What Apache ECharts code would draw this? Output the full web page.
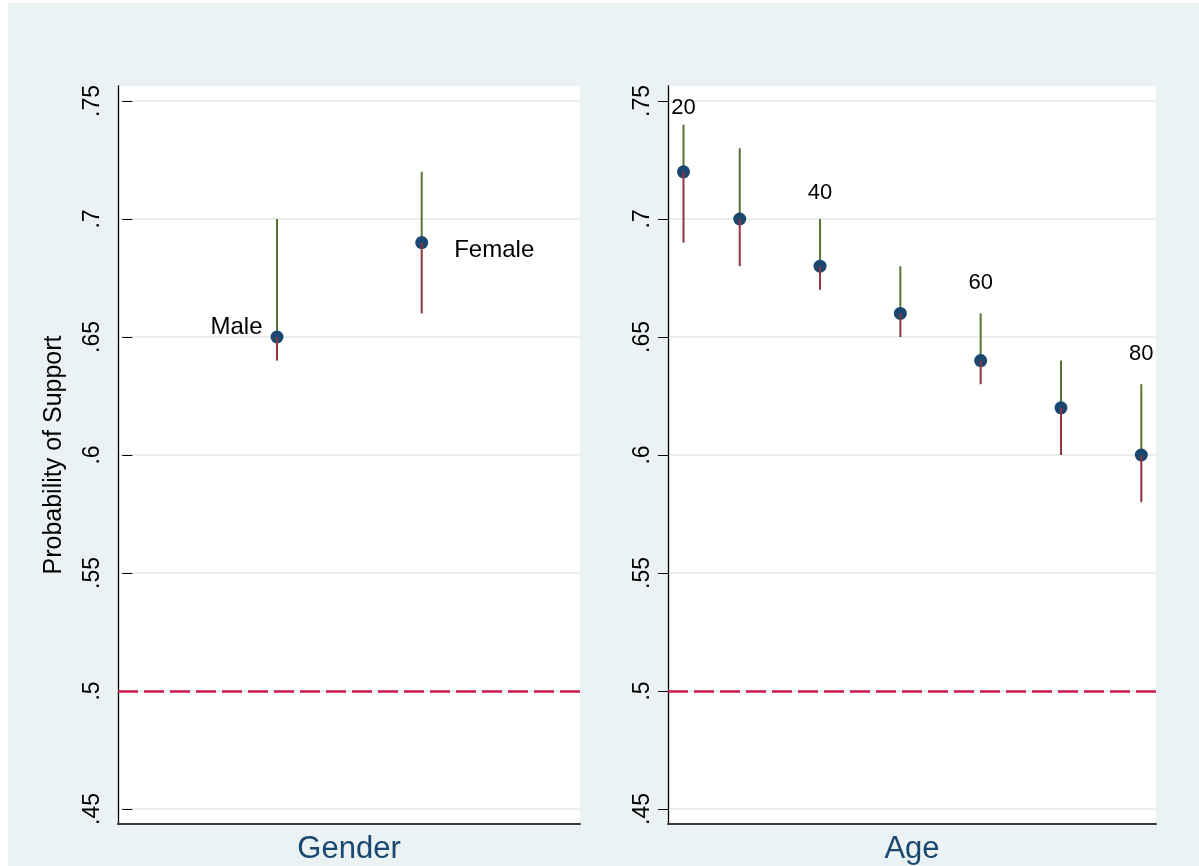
<!DOCTYPE html>
<html>
<head>
<meta charset="utf-8">
<script src="https://cdn.jsdelivr.net/npm/echarts@6/dist/echarts.min.js"></script>
<style>
  html, body { margin: 0; padding: 0; background: #ffffff; }
  #chart { width: 1199px; height: 866px; }
</style>
</head>
<body>
<div id="chart"></div>
<script>
// Predicted probability of support with confidence intervals, by gender and by age.
const sexNames = ['Male', 'Female'];
const sexX = [1, 2];
const sexPoint = [0.65, 0.69];
const sexLow = [0.64, 0.66];
const sexHigh = [0.70, 0.72];

const ageX = [23, 30, 40, 50, 60, 70, 80];
const agePoint = [0.72, 0.70, 0.68, 0.66, 0.64, 0.62, 0.60];
const ageLow = [0.69, 0.68, 0.67, 0.65, 0.63, 0.60, 0.58];
const ageHigh = [0.74, 0.73, 0.70, 0.68, 0.66, 0.64, 0.63];

// Age annotations (text placed in data coordinates)
const ageNoteText = ['20', '40', '60', '80'];
const ageNoteX = [23, 40, 60, 80];
const ageNoteY = [0.747, 0.711, 0.673, 0.643];

const yTickLabels = ['.45', '.5', '.55', '.6', '.65', '.7', '.75'];
const yMin = 0.45, yMax = 0.75, yStep = 0.05;
const refLine = 0.5;

const NAVY = '#1a476f', MAROON = '#90353b', GREEN = '#55752f', DASH = '#cc1d4d';
const FONT = '"Liberation Sans", Arial, Helvetica, sans-serif';

const chart = echarts.init(document.getElementById('chart'), null, { renderer: 'canvas' });

function whisker(color) {
  return function (params, api) {
    const x = api.value(0);
    const a = api.coord([x, api.value(1)]);
    const b = api.coord([x, api.value(2)]);
    return {
      type: 'line',
      shape: { x1: a[0], y1: a[1], x2: b[0], y2: b[1] },
      style: { stroke: color, lineWidth: 2 }
    };
  };
}

function yAxisData(gridIndex, withName) {
  return {
    type: 'value', gridIndex: gridIndex,
    min: yMin, max: yMax, interval: yStep,
    axisLine: { show: false },
    axisTick: { show: true, length: 10, lineStyle: { color: '#000', width: 1 } },
    axisLabel: {
      rotate: 90, margin: 14, color: '#000', fontSize: 23, fontFamily: FONT,
      formatter: v => yTickLabels[Math.round((v - yMin) / yStep)]
    },
    splitLine: { show: true, lineStyle: { color: '#e6eef0', width: 2 } },
    name: withName ? 'Probability of Support' : '',
    nameLocation: 'middle', nameRotate: 90, nameGap: 51,
    nameTextStyle: { color: '#000', fontSize: 25, fontFamily: FONT }
  };
}

function frameX(gridIndex, title) {
  return {
    type: 'value', gridIndex: gridIndex, min: 0, max: 1,
    axisLine: { show: true, lineStyle: { color: '#3a3a3a', width: 2 } },
    axisTick: { show: false }, axisLabel: { show: false }, splitLine: { show: false },
    name: title, nameLocation: 'middle', nameGap: 10,
    nameTextStyle: { color: NAVY, fontSize: 31, fontFamily: FONT }
  };
}
function frameY(gridIndex) {
  return {
    type: 'value', gridIndex: gridIndex, min: 0, max: 1,
    axisLine: { show: true, lineStyle: { color: '#000', width: 1.3 } },
    axisTick: { show: false }, axisLabel: { show: false }, splitLine: { show: false }
  };
}

const dashLine = {
  silent: true, symbol: 'none',
  label: { show: false },
  lineStyle: { color: DASH, width: 2.5, type: [20, 6] },
  data: [{ yAxis: refLine }]
};

const option = {
  animation: false,
  backgroundColor: 'transparent',
  textStyle: { fontFamily: FONT },
  graphic: [{
    type: 'rect', z: -10, silent: true,
    shape: { x: 8, y: 3, width: 1191, height: 863 },
    style: { fill: '#eaf2f3' }
  }],
  grid: [
    // frames (white plot regions with axis lines)
    { left: 118, right: 619, top: 86, bottom: 42, show: true, backgroundColor: '#ffffff', borderWidth: 0, outerBoundsMode: 'none', containLabel: false },
    { left: 668, right: 43, top: 86, bottom: 42, show: true, backgroundColor: '#ffffff', borderWidth: 0, outerBoundsMode: 'none', containLabel: false },
    // data regions
    { left: 118, right: 619, top: 101, bottom: 57, outerBoundsMode: 'none', containLabel: false },
    { left: 668, right: 43, top: 101, bottom: 57, outerBoundsMode: 'none', containLabel: false }
  ],
  xAxis: [
    frameX(0, 'Gender'),
    frameX(1, 'Age'),
    { type: 'value', gridIndex: 2, min: -0.099, max: 3.094, show: false },
    { type: 'value', gridIndex: 3, min: 21.07, max: 81.83, show: false }
  ],
  yAxis: [
    frameY(0),
    frameY(1),
    yAxisData(2, true),
    yAxisData(3, false)
  ],
  series: [
    // Gender panel
    {
      type: 'custom', xAxisIndex: 2, yAxisIndex: 2, renderItem: whisker(GREEN),
      encode: { x: 0, y: [1, 2] },
      data: sexX.map((x, i) => [x, sexPoint[i], sexHigh[i]]),
      markLine: dashLine, z: 2
    },
    {
      type: 'scatter', xAxisIndex: 2, yAxisIndex: 2, symbol: 'circle', symbolSize: 13,
      itemStyle: { color: NAVY, opacity: 1 }, z: 3,
      data: sexX.map((x, i) => ({
        value: [x, sexPoint[i]],
        label: i === 0
          ? { show: true, position: 'left', distance: 8, offset: [0, -10] }
          : { show: true, position: 'right', distance: 26, offset: [0, 8] }
      })),
      label: {
        color: '#000', fontSize: 24, fontFamily: FONT,
        formatter: p => sexNames[p.dataIndex]
      }
    },
    {
      type: 'custom', xAxisIndex: 2, yAxisIndex: 2, renderItem: whisker(MAROON),
      encode: { x: 0, y: [1, 2] },
      data: sexX.map((x, i) => [x, sexPoint[i], sexLow[i]]), z: 4
    },
    // Age panel
    {
      type: 'custom', xAxisIndex: 3, yAxisIndex: 3, renderItem: whisker(GREEN),
      encode: { x: 0, y: [1, 2] },
      data: ageX.map((x, i) => [x, agePoint[i], ageHigh[i]]),
      markLine: dashLine, z: 2
    },
    {
      type: 'scatter', xAxisIndex: 3, yAxisIndex: 3, symbol: 'circle', symbolSize: 13,
      itemStyle: { color: NAVY, opacity: 1 }, z: 3,
      data: ageX.map((x, i) => [x, agePoint[i]])
    },
    {
      type: 'custom', xAxisIndex: 3, yAxisIndex: 3, renderItem: whisker(MAROON),
      encode: { x: 0, y: [1, 2] },
      data: ageX.map((x, i) => [x, agePoint[i], ageLow[i]]), z: 4
    },
    {
      type: 'scatter', xAxisIndex: 3, yAxisIndex: 3, symbolSize: 0, silent: true, z: 5,
      itemStyle: { opacity: 1 },
      data: ageNoteX.map((x, i) => [x, ageNoteY[i]]),
      label: {
        show: true, position: 'inside', color: '#000', opacity: 1,
        fontSize: 22, fontFamily: FONT,
        formatter: p => ageNoteText[p.dataIndex]
      }
    }
  ]
};

chart.setOption(option);
</script>
</body>
</html>
